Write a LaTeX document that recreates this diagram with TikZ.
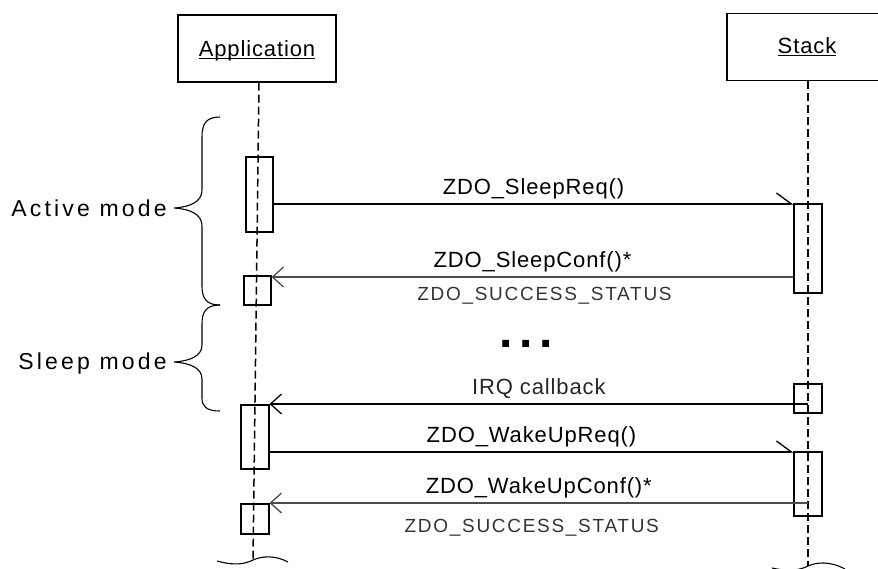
\documentclass[tikz,border=0pt]{standalone}
\usepackage{fontspec}
\setmainfont{Liberation Sans}
\newfontfamily\msgfont[LetterSpace=4]{Liberation Sans}
\newfontfamily\modefont[LetterSpace=14]{Liberation Sans}
\newfontfamily\statfont[LetterSpace=9]{Liberation Sans}
\newfontfamily\dotfont[LetterSpace=14]{Liberation Sans}
\usetikzlibrary{arrows.meta,positioning}

\begin{document}
\begin{tikzpicture}[x=1pt,y=-1pt,
        objbox/.style={draw, line width=1.2pt, inner sep=0pt, minimum height=67pt},
        objlbl/.style={font=\msgfont\fontsize{22}{26}\selectfont, inner sep=0pt, anchor=base},
        act/.style={draw, line width=1.1pt, inner sep=0pt, minimum width=27pt},
        life/.style={line width=1.5pt, dash pattern=on 8pt off 4pt},
        req/.style={line width=1.3pt, -{Straight Barb[left,length=15pt,width=22pt]}},
        rep/.style={line width=1.3pt, -{Straight Barb[length=11pt,width=20pt]}},
        lbl/.style={font=\msgfont\fontsize{22}{26}\selectfont, text height=16pt, text depth=5pt, inner sep=0pt},
        stat/.style={font=\statfont\fontsize{19}{22}\selectfont, text height=13.6pt, text depth=0pt, inner sep=0pt},
        mode/.style={font=\modefont\fontsize{23}{27}\selectfont, inner sep=0pt, anchor=base east},
        brace/.style={line width=1.1pt}]
    \useasboundingbox (0,0) rectangle (878,568);

    % objects
    \node[objbox, minimum width=158pt] (app) at (257,48.5) {};
    \node[objlbl] (applbl) at (257,56) {Application};
    \draw[line width=1.6pt] ([yshift=-2.5pt]applbl.base west) -- ([yshift=-2.5pt]applbl.base east);
    \node[objbox, minimum width=180pt] (stk) at (817,47) {};
    \node[objlbl] (stklbl) at (807,53) {Stack};
    \draw[line width=1.6pt] ([yshift=-2.5pt]stklbl.base west) -- ([yshift=-2.5pt]stklbl.base east);

    % activations
    \node[act, minimum height=75pt] (a1) at (259.5,194.5) {};
    \node[act, minimum height=29pt] (a2) at (257.5,290.5) {};
    \node[act, minimum width=28pt, minimum height=64pt] (a3) at (255,437) {};
    \node[act, minimum width=28pt, minimum height=30pt] (a4) at (255,519) {};
    \node[act, minimum width=28pt, minimum height=89pt] (s1) at (808,248.5) {};
    \node[act, minimum width=28pt, minimum height=29pt] (s2) at (808,398.5) {};
    \node[act, minimum width=28pt, minimum height=64pt] (s3) at (808,484) {};

    % lifelines
    \coordinate (append) at (253,560);
    \coordinate (stkend) at (808,566);
    \draw[life] ([xshift=2pt]app.south) -- (append);
    \draw[life] (stk.south -| s1) -- (stkend);

    % messages
    \coordinate (m1) at (0,204);
    \coordinate (m2) at (0,277);
    \coordinate (m3) at (0,404);
    \coordinate (m4) at (0,452);
    \coordinate (m5) at (0,503);
    \draw[req] (a1.east |- m1) -- (s1.west |- m1)
        node[lbl, midway, above=4pt] {ZDO\_SleepReq()};
    \draw[rep, gray!60!black] (s1.west |- m2) -- (a2.east |- m2)
        node[lbl, midway, above=4pt, black] {ZDO\_SleepConf()*}
        node[stat, midway, below=9pt, xshift=12pt, black!80] {ZDO\_SUCCESS\_STATUS};
    \node[font=\dotfont\fontsize{48}{48}\selectfont\bfseries, inner sep=0pt, anchor=base west] (gap) at (499.6,347) {...};
    \draw[rep] (s2.center |- m3) -- (a3.east |- m3)
        node[lbl, midway, above=4pt, black!85] {IRQ callback};
    \draw[req] (a3.east |- m4) -- (s3.west |- m4)
        node[lbl, midway, above=4pt] {ZDO\_WakeUpReq()};
    \draw[rep, gray!60!black] (s3.center |- m5) -- (a4.east |- m5)
        node[lbl, midway, above=4pt, black] {ZDO\_WakeUpConf()*}
        node[stat, midway, below=15pt, xshift=-7pt, black!80] {ZDO\_SUCCESS\_STATUS};

    % modes
    \draw[brace] (220,117) .. controls (206,117) and (202,124) .. (202,137) -- (202,190)
        .. controls (202,202) and (190,207) .. (174,208)
        .. controls (190,209) and (202,214) .. (202,226) -- (202,286)
        .. controls (202,298) and (206,305) .. (220,305);
    \draw[brace] (220,305) .. controls (206,305) and (202,312) .. (202,324) -- (202,345)
        .. controls (202,356) and (190,361) .. (174,362)
        .. controls (190,363) and (202,368) .. (202,379) -- (202,398)
        .. controls (202,406) and (206,411) .. (220,411);
    \node[mode] (active) at (167,216) {Active mode};
    \node[mode] (sleep) at (167,369) {Sleep mode};

    % breaks
    \draw[line width=1.1pt] (217,561) .. controls (235,566) and (245,564) .. (append)
        .. controls (262,556) and (275,555) .. (288,562);
    \draw[line width=1.1pt] (772,568) .. controls (790,572) and (800,570) .. (stkend)
        .. controls (817,562) and (830,561) .. (845,569);
\end{tikzpicture}
\end{document}
